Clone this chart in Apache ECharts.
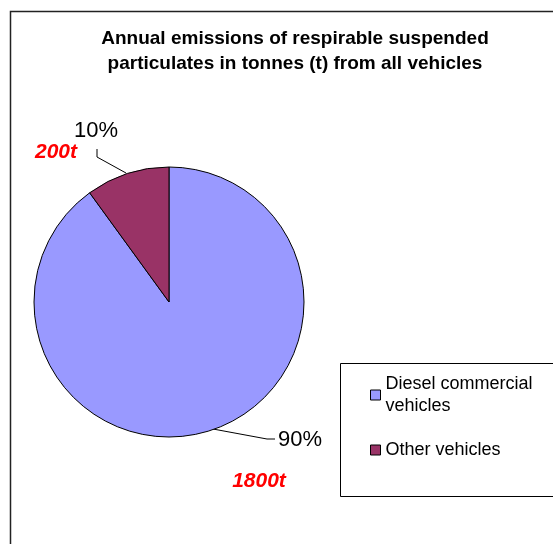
<!DOCTYPE html>
<html><head><meta charset="utf-8">
<script src="https://cdn.jsdelivr.net/npm/echarts@6/dist/echarts.min.js"></script>
<style>html,body{margin:0;padding:0;background:#fff;}#c{width:553px;height:544px;}</style>
</head><body><div id="c"></div>
<script>
const categories = ['Diesel commercial vehicles', 'Other vehicles'];
const tonnes = [1800, 200];
const colors = ['#9999FF', '#993366'];
const titleText = 'Annual emissions of respirable suspended\nparticulates in tonnes (t) from all vehicles';

const chart = echarts.init(document.getElementById('c'));
const FONT = '"Liberation Sans", Arial, sans-serif';
const total = tonnes.reduce((a, b) => a + b, 0);

chart.setOption({
  backgroundColor: '#fff',
  animation: false,
  title: {
    text: titleText,
    left: 290, top: 21, textAlign: 'center',
    textStyle: { fontFamily: FONT, fontSize: 19, fontWeight: 'bold', color: '#000', lineHeight: 25 }
  },
  legend: {
    orient: 'vertical',
    left: 365, top: 368,
    itemWidth: 10, itemHeight: 10, itemGap: 22,
    icon: 'rect',
    formatter: n => n === 'Diesel commercial vehicles' ? 'Diesel commercial\nvehicles' : n,
    textStyle: { fontFamily: FONT, fontSize: 18, color: '#000', lineHeight: 22 },
    itemStyle: { borderColor: '#000', borderWidth: 1 },
    selectedMode: false
  },
  graphic: [
    { type: 'rect', shape: { x: 10.5, y: 11.5, width: 700, height: 700 }, style: { fill: null, stroke: '#222', lineWidth: 1.5 }, silent: true },
    { type: 'rect', shape: { x: 340.5, y: 363.5, width: 300, height: 133 }, style: { fill: '#fff', stroke: '#000', lineWidth: 1 }, silent: true, z: -1 },
    { type: 'text', x: 56, y: 152, style: { text: tonnes[1] + 't', fill: '#FF0000', font: 'italic bold 21px ' + FONT, align: 'center', verticalAlign: 'middle' } },
    { type: 'text', x: 259, y: 481, style: { text: tonnes[0] + 't', fill: '#FF0000', font: 'italic bold 21px ' + FONT, align: 'center', verticalAlign: 'middle' } }
  ],
  series: [{
    type: 'pie',
    center: [169, 302],
    radius: 135,
    startAngle: 90,
    clockwise: true,
    data: categories.map((c, i) => ({ name: c, value: tonnes[i], itemStyle: { color: colors[i] } })),
    itemStyle: { borderColor: '#000', borderWidth: 1 },
    label: {
      show: true,
      formatter: p => Math.round(p.value / total * 100) + '%',
      fontFamily: FONT, fontSize: 22, color: '#000'
    },
    labelLine: { show: true, lineStyle: { color: '#000', width: 1 } },
    labelLayout: function (p) {
      if (p.dataIndex === 1) {
        return { x: 96, y: 131, align: 'center', verticalAlign: 'middle',
          labelLinePoints: [[126, 173], [97, 157], [97, 149]] };
      }
      return { x: 300, y: 440, align: 'center', verticalAlign: 'middle',
        labelLinePoints: [[213, 429], [267, 439], [275, 439]] };
    },
    emphasis: { disabled: true }
  }]
});
</script></body></html>
